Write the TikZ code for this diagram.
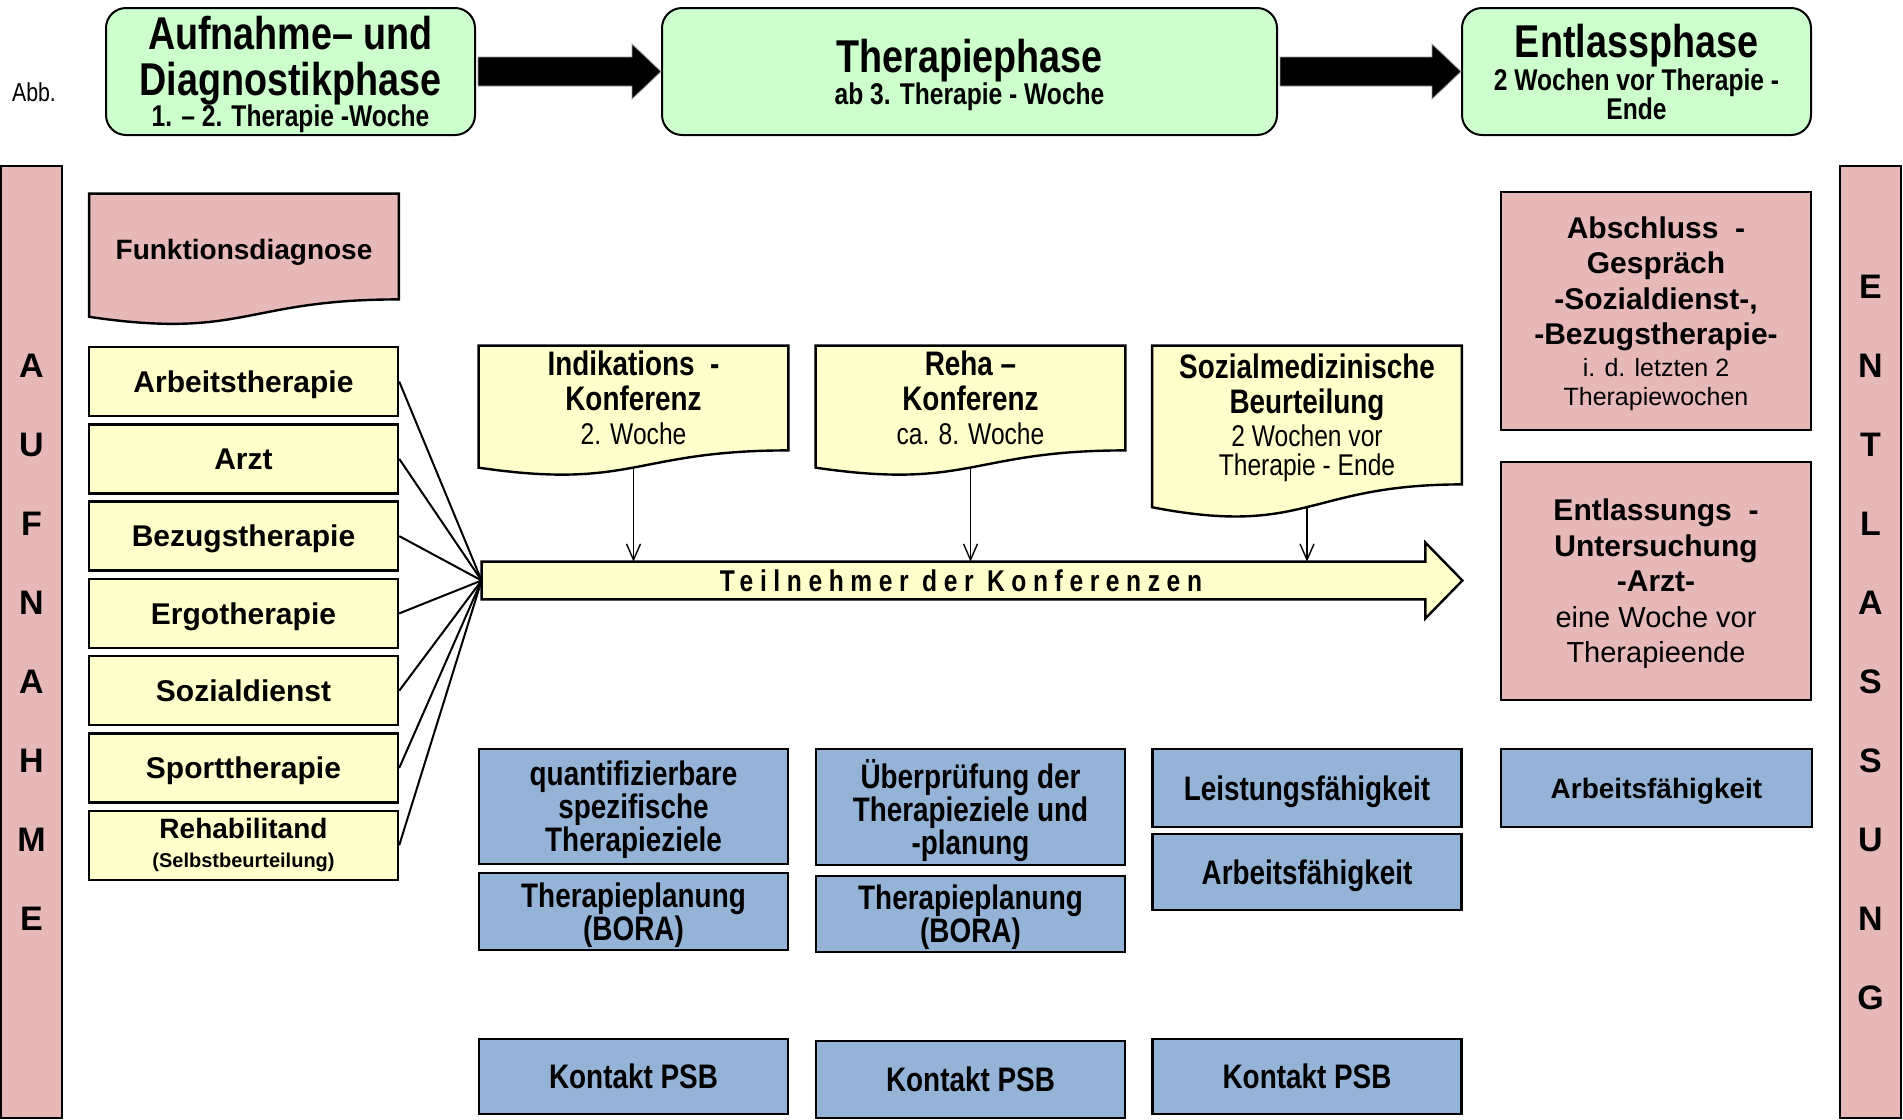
\documentclass[tikz,border=0pt]{standalone}
\usepackage{fontspec}
\setmainfont{Liberation Sans}
\newfontfamily\narrowfont[FakeStretch=0.82]{Liberation Sans}
\newfontfamily\spacedfont[FakeStretch=0.82,LetterSpace=22]{Liberation Sans}
\usetikzlibrary{calc,arrows.meta,backgrounds}

\definecolor{phasegreen}{HTML}{CCFFCC}
\definecolor{notepink}{HTML}{E6B9B8}
\definecolor{listyellow}{HTML}{FFFFCC}
\definecolor{goalblue}{HTML}{95B3D7}

\newcommand{\fsz}[2]{\fontsize{#1}{#2}\selectfont}
\newcommand{\docshape}[2]{%
  \path[docline, fill=#2] (#1.north west) -- (#1.north east) -- (#1.south east)
    .. controls (#1.south) and ($(#1.north)!1.381!(#1.south)$)
    .. ($(#1.north west)!1.1646!(#1.south west)$) -- cycle;
  \coordinate (#1-b) at ($(#1.north)!1.1635!(#1.south)$);}

\tikzset{
  phase/.style={draw, line width=1pt, fill=phasegreen, rounded corners=10pt, align=center, inner sep=0pt, text depth=0pt, font=\narrowfont\bfseries\fsz{23}{23}},
  sidebar/.style={draw, line width=1.2pt, fill=notepink, minimum width=30.5pt, minimum height=476pt, inner sep=0pt, align=center, font=\bfseries\fsz{17}{39.5}},
  listbox/.style={draw, line width=1.2pt, fill=listyellow, minimum width=154.5pt, minimum height=34.5pt, inner sep=0pt, align=center, font=\bfseries\fsz{15}{18}},
  pinkbox/.style={draw, line width=1.2pt, fill=notepink, minimum width=155pt, minimum height=119pt, inner sep=0pt, align=center, font=\bfseries\fsz{15}{17.75}},
  goalbox/.style={draw, line width=1.2pt, fill=goalblue, minimum width=154.5pt, inner sep=0pt, text depth=0pt, align=center, font=\narrowfont\bfseries\fsz{17}{16.5}},
  doctext/.style={minimum width=154.5pt, inner sep=0pt, text depth=-3.5pt, align=center},
  docline/.style={draw, line width=1.2pt},
  fan/.style={line width=1pt},
  down/.style={line width=0.7pt, -{Straight Barb[length=8pt,width=7pt]}},
  bigarrow/.style={fill=black, draw=black!40, line width=0.4pt}
}

\begin{document}
\begin{tikzpicture}[x=0.5pt,y=-0.5pt]
\useasboundingbox (0,0) rectangle (1903,1120);

\node[font=\narrowfont\fsz{13}{15}] (abb) at (34,92) {Abb.};

\node[phase, minimum width=184.5pt, minimum height=63.5pt] (aufn) at (290.5,71.5)
  {\fsz{23}{23}Aufnahme– und\\\fsz{23}{23}Diagnostikphase\\[-7.5pt]\fsz{15}{23}1. – 2. Therapie -Woche};
\node[phase, minimum width=307.5pt, minimum height=63.5pt] (ther) at (969.5,71.5)
  {\fsz{23}{23}Therapiephase\\[-7pt]\fsz{15}{23}ab 3. Therapie - Woche};
\node[phase, minimum width=174.5pt, minimum height=63.5pt] (entl) at (1636.5,71.5)
  {\fsz{23}{23}Entlassphase\\[-6.5pt]\fsz{15}{23}2 Wochen vor Therapie -\\[-8.5pt]\fsz{15}{23}Ende};

\foreach \a/\b in {aufn/ther, ther/entl}
  \draw[bigarrow] ($(\a.east)+(2,-14.5)$) -- ($(\b.west)+(-29,-14.5)$) -- ($(\b.west)+(-29,-27.5)$)
    -- (\b.west) -- ($(\b.west)+(-29,27.5)$) -- ($(\b.west)+(-29,14.5)$) -- ($(\a.east)+(2,14.5)$) -- cycle;

\node[sidebar] (aufbar) at (31.5,642) {A\\U\\F\\N\\A\\H\\M\\E};
\node[sidebar] (entbar) at (1870.5,642) {E\\N\\T\\L\\A\\S\\S\\U\\N\\G};

\node[doctext, minimum height=52.5pt, text height=12.5pt, text depth=0pt, font=\bfseries\fsz{14}{17}] (fdiag) at (244,246.5) {Funktionsdiagnose};

\foreach \n/\t [count=\i from 0] in {arb/Arbeitstherapie, arzt/Arzt, bez/Bezugstherapie, ergo/Ergotherapie, soz/Sozialdienst, sport/Sporttherapie}
  \node[listbox, text height=10.8pt, text depth=0pt] (\n) at (243.5,{381.5+77.3*\i}) {\t};
\node[listbox, font=\bfseries\fsz{14}{16}] (reha) at (243.5,845.3)
  {\fsz{14}{16}Rehabilitand\\[-1.5pt]\fsz{10}{16}(Selbstbeurteilung)};

\node[minimum width=471.5pt, minimum height=18.5pt, inner sep=0pt, font=\spacedfont\bfseries\fsz{15}{17}] (tn) at (953.5,580.5)
  {\kern7.5pt Teilnehmer der Konferenzen};

\node[doctext, minimum height=52pt, font=\narrowfont\bfseries\fsz{17}{17.5}] (ind) at (633.5,398)
  {Indikations\ \ -\\Konferenz\\[-0.5pt]\mdseries\fsz{15}{17.5}2. Woche};
\node[doctext, minimum height=52pt, font=\narrowfont\bfseries\fsz{17}{17.5}] (rk) at (970.5,398)
  {Reha –\\Konferenz\\[-0.5pt]\mdseries\fsz{15}{17.5}ca. 8. Woche};
\node[doctext, minimum height=69pt, font=\narrowfont\bfseries\fsz{17}{17.5}] (smb) at (1307,415)
  {Sozialmedizinische\\Beurteilung\\[-1pt]\mdseries\fsz{15}{17.5}2 Wochen vor\\[-3pt]\mdseries\fsz{15}{17.5}Therapie - Ende};

\node[pinkbox, text depth=-2.4pt] (absch) at (1656,311)
  {Abschluss\ \ -\\Gespräch\\-Sozialdienst-,\\-Bezugstherapie-\\[-1.75pt]\mdseries\fsz{12.5}{17.75}i. d. letzten 2\\[-3.25pt]\mdseries\fsz{12.5}{17.75}Therapiewochen};
\node[pinkbox, text depth=-4.2pt] (entlu) at (1656,581)
  {Entlassungs\ \ -\\Untersuchung\\-Arzt-\\\mdseries\fsz{14.5}{17.75}eine Woche vor\\\mdseries\fsz{14.5}{17.75}Therapieende};

\node[goalbox, minimum height=57.5pt] (qst) at (633.5,806.5) {quantifizierbare\\spezifische\\Therapieziele};
\node[goalbox, minimum height=38.5pt] (tp1) at (633.5,911.5) {Therapieplanung\\(BORA)};
\node[goalbox, minimum height=58pt] (uep) at (970.5,807) {Überprüfung der\\Therapieziele und\\-planung};
\node[goalbox, minimum height=38pt] (tp2) at (970.5,914) {Therapieplanung\\(BORA)};
\node[goalbox, minimum height=39pt] (lf) at (1307,788) {Leistungsfähigkeit};
\node[goalbox, minimum height=38pt] (af1) at (1307,872) {Arbeitsfähigkeit};
\node[goalbox, minimum height=39pt, minimum width=155.5pt, font=\bfseries\fsz{14}{16}] (af2) at (1656.5,788) {Arbeitsfähigkeit};
\node[goalbox, minimum height=37.5pt] (kp1) at (633.5,1076.5) {Kontakt PSB};
\node[goalbox, minimum height=38.5pt] (kp2) at (970.5,1079.5) {Kontakt PSB};
\node[goalbox, minimum height=37.5pt] (kp3) at (1307,1076.5) {Kontakt PSB};

\begin{pgfonlayer}{background}
  \foreach \d/\c in {fdiag/notepink, ind/listyellow, rk/listyellow, smb/listyellow}
    {\docshape{\d}{\c}}
  \draw[line width=1.2pt, fill=listyellow] (tn.north west) -- (tn.north east) -- ($(tn.north east)+(0,-19)$)
    -- ($(tn.east)+(37,0)$) -- ($(tn.south east)+(0,19)$) -- (tn.south east) -- (tn.south west) -- cycle;
\end{pgfonlayer}

\foreach \n in {arb,arzt,bez,ergo,soz,sport,reha}
  \draw[fan] (\n.east) -- (tn.west);
\foreach \d in {ind,rk,smb}
  \draw[down] (\d-b) -- (\d-b |- tn.north);
\end{tikzpicture}
\end{document}
